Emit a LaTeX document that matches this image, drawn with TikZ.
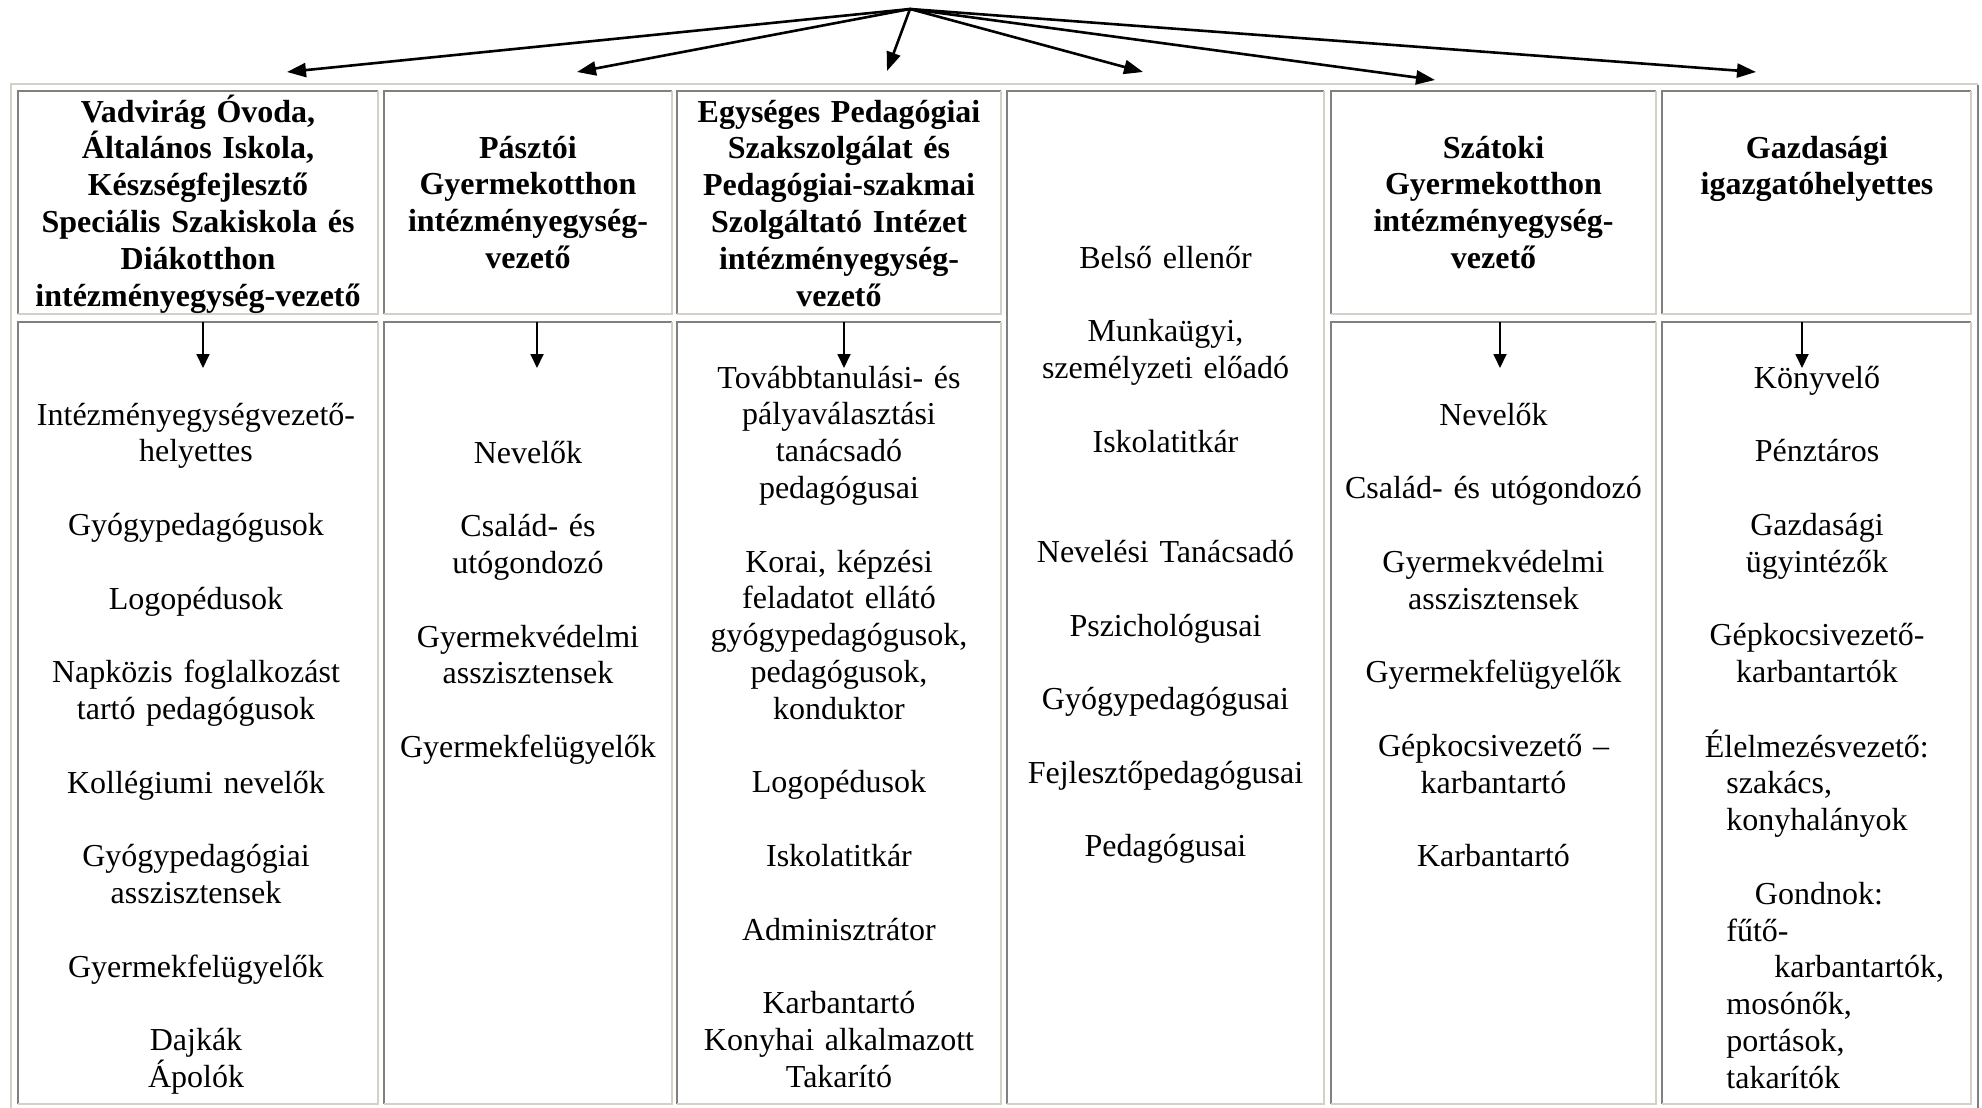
\documentclass[tikz,border=0pt]{standalone}
\usepackage{fontspec}
\setmainfont{Liberation Serif}
\usetikzlibrary{arrows.meta}
\definecolor{tablelight}{HTML}{D4D0C8}
\definecolor{tabledark}{HTML}{808080}
\newcommand{\gapline}{\\[18.4pt]}
% one table cell: dark top/left, light bottom/right
\newcommand{\bevel}[4]{%
  \draw[darkbord] (#1,#4) -- (#1,#2) -- (#3,#2);
  \draw[litebord] (#3,#2) -- (#3,#4) -- (#1,#4);}
\tikzset{
  hdr/.style={font=\fontsize{16}{18.4}\selectfont\bfseries, align=center, inner sep=0pt, anchor=base},
  txt/.style={font=\fontsize{16}{18.4}\selectfont, align=center, inner sep=0pt, anchor=base},
  toparrow/.style={-{Triangle[length=9.5pt,width=7pt]}, line width=1.3pt},
  downarrow/.style={-{Triangle[length=7pt,width=6.5pt]}, line width=0.9pt},
  litebord/.style={draw=tablelight, line width=1.1pt},
  darkbord/.style={draw=tabledark, line width=1.1pt},
}
\begin{document}
\begin{tikzpicture}[x=0.5pt, y=-0.5pt]
	\useasboundingbox (0,0) rectangle (1982,1108);

	% table frame
	\draw[litebord] (11,1110) -- (11,84) -- (1978,84);
	\draw[darkbord] (1978,85) -- (1978,1110);
	\bevel{18}{91}{378}{314}
	\bevel{384}{91}{672}{314}
	\bevel{677}{91}{1001}{314}
	\bevel{1007}{91}{1324}{1104}
	\bevel{1331}{91}{1656}{314}
	\bevel{1662}{91}{1971}{314}
	\bevel{18}{322}{378}{1104}
	\bevel{384}{322}{672}{1104}
	\bevel{677}{322}{1001}{1104}
	\bevel{1331}{322}{1656}{1104}
	\bevel{1662}{322}{1971}{1104}

	% arrows from the top
	\coordinate (root) at (910,9);
	\coordinate (t1) at (287,72);
	\coordinate (t2) at (577,72);
	\coordinate (t3) at (887,71);
	\coordinate (t4) at (1143,72);
	\coordinate (t5) at (1435,80);
	\coordinate (t6) at (1756,72);
	\foreach \t in {t1,t2,t3,t4,t5,t6}
		\draw[toparrow] (root) -- (\t);

	% headers
	\node[hdr, text width=175pt] (h1) at (198,122) {Vadvirág Óvoda,\\ Általános Iskola,\\ Készségfejlesztő\\ Speciális Szakiskola és\\ Diákotthon\\ intézményegység-vezető};
	\node[hdr, text width=140pt] (h2) at (528,158) {Pásztói\\ Gyermekotthon\\ intézményegység-\\ vezető};
	\node[hdr, text width=158pt] (h3) at (839,122) {Egységes Pedagógiai\\ Szakszolgálat és\\ Pedagógiai-szakmai\\ Szolgáltató Intézet\\ intézményegység-\\ vezető};
	\node[hdr, text width=158pt] (h5) at (1493.5,158) {Szátoki\\ Gyermekotthon\\ intézményegység-\\ vezető};
	\node[hdr, text width=150pt] (h6) at (1817,158) {Gazdasági\\ igazgatóhelyettes};

	% small arrows in the lower cells
	\foreach \n/\x in {1/203,2/537,3/844,5/1500,6/1802}{
		\coordinate (s\n) at (\x,322);
		\coordinate (e\n) at (\x,368);
		\draw[downarrow] (s\n) -- (e\n);
	}

	% staff lists
	\node[txt, text width=175pt] (b1) at (196,425) {Intézményegységvezető-\\ helyettes\gapline Gyógypedagógusok\gapline Logopédusok\gapline Napközis foglalkozást\\ tartó pedagógusok\gapline Kollégiumi nevelők\gapline Gyógypedagógiai\\ asszisztensek\gapline Gyermekfelügyelők\gapline Dajkák\\ Ápolók};
	\node[txt, text width=140pt] (b2) at (528,463) {Nevelők\gapline Család- és\\ utógondozó\gapline Gyermekvédelmi\\ asszisztensek\gapline Gyermekfelügyelők};
	\node[txt, text width=158pt] (b3) at (839,388) {Továbbtanulási- és\\ pályaválasztási\\ tanácsadó\\ pedagógusai\gapline Korai, képzési\\ feladatot ellátó\\ gyógypedagógusok,\\ pedagógusok,\\ konduktor\gapline Logopédusok\gapline Iskolatitkár\gapline Adminisztrátor\gapline Karbantartó\\ Konyhai alkalmazott\\ Takarító};
	\node[txt, text width=155pt] (b4) at (1165.5,268) {Belső ellenőr\gapline Munkaügyi,\\ személyzeti előadó\gapline Iskolatitkár\\[36.8pt] Nevelési Tanácsadó\gapline Pszichológusai\gapline Gyógypedagógusai\gapline Fejlesztőpedagógusai\gapline Pedagógusai};
	\node[txt, text width=158pt] (b5) at (1493.5,425) {Nevelők\gapline Család- és utógondozó\gapline Gyermekvédelmi\\ asszisztensek\gapline Gyermekfelügyelők\gapline Gépkocsivezető --\\ karbantartó\gapline Karbantartó};
	\node[txt, text width=150pt] (b6) at (1817,388) {Könyvelő\gapline Pénztáros\gapline Gazdasági\\ ügyintézők\gapline Gépkocsivezető-\\ karbantartók};
	\node[txt, align=left, text width=130pt, anchor=base west] (b6x) at (1704.5,757) {Élelmezésvezető:\\ \hspace*{10.75pt}szakács,\\ \hspace*{10.75pt}konyhalányok\gapline \hspace*{25pt}Gondnok:\\ \hspace*{10.75pt}fűtő-\\ \hspace*{34.75pt}karbantartók,\\ \hspace*{10.75pt}mosónők,\\ \hspace*{10.75pt}portások,\\ \hspace*{10.75pt}takarítók};
\end{tikzpicture}
\end{document}
